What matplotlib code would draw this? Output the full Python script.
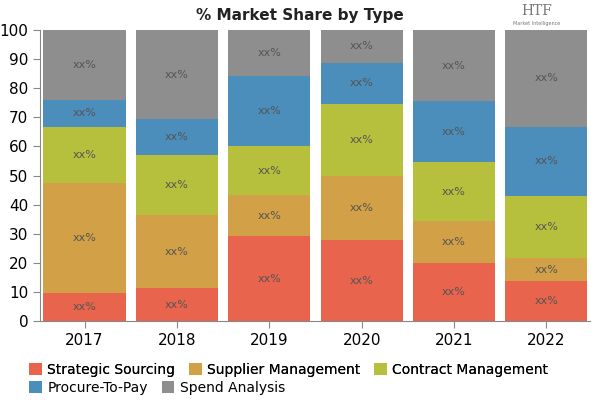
from matplotlib import pyplot as plt
import numpy as np

years = ['2017', '2018', '2019', '2020', '2021', '2022']
series = ['Strategic Sourcing', 'Supplier Management', 'Contract Management',
          'Procure-To-Pay', 'Spend Analysis']
strategic = [9.6, 11.3, 29.2, 27.8, 19.9, 13.7]
supplier = [37.8, 25.1, 14.1, 22.0, 14.5, 7.9]
contract = [19.3, 20.6, 16.8, 24.8, 20.2, 21.4]
procure = [9.3, 12.4, 24.1, 14.1, 21.0, 23.7]
spend = [24.0, 30.6, 15.8, 11.3, 24.4, 33.3]
colors = ['#E8644C', '#D2A046', '#B7C03C', '#4B8DBB', '#8E8E8E']

fig = plt.figure(figsize=(6, 4), dpi=100)
ax = fig.add_axes([0.067, 0.1975, 0.916, 0.7275])

x = np.arange(len(years))
bottom = np.zeros(len(years))
handles = []
for name, vals, col in zip(series, [strategic, supplier, contract, procure, spend], colors):
    vals = np.array(vals)
    h = ax.bar(x, vals, 0.89, bottom=bottom, color=col, label=name)
    handles.append(h)
    for xi, b, v in zip(x, bottom, vals):
        ax.text(xi, b + v / 2, 'xx%', ha='center', va='center', fontsize=8, color='#555555')
    bottom += vals

ax.set_xlim(-0.48, 5.47)
ax.set_ylim(0, 100)
ax.set_yticks(range(0, 101, 10))
ax.set_xticks(x)
ax.set_xticklabels(years)
ax.tick_params(labelsize=11, color='#888888', length=5)
for s in ['top', 'right']:
    ax.spines[s].set_visible(False)
for s in ['left', 'bottom']:
    ax.spines[s].set_color('#888888')

fig.text(0.5, 0.962, '% Market Share by Type', ha='center', va='center',
         fontsize=11, fontweight='bold', color='#222222')
fig.text(0.895, 0.972, 'HTF', ha='center', va='center', fontsize=10, color='#777777',
         family='DejaVu Serif')
fig.text(0.895, 0.94, 'Market Intelligence', ha='center', va='center', fontsize=3.5,
         color='#777777')

leg_kw = dict(loc='center left', frameon=False, fontsize=10, handlelength=0.9,
              handleheight=0.9, handletextpad=0.4, columnspacing=1.0, borderpad=0)
leg1 = fig.legend(handles[:3], series[:3], bbox_to_anchor=(0.037, 0.075), ncol=3, **leg_kw)
fig.add_artist(leg1)
fig.legend(handles[3:], series[3:], bbox_to_anchor=(0.037, 0.03), ncol=2, **leg_kw)

plt.savefig('out.png')
